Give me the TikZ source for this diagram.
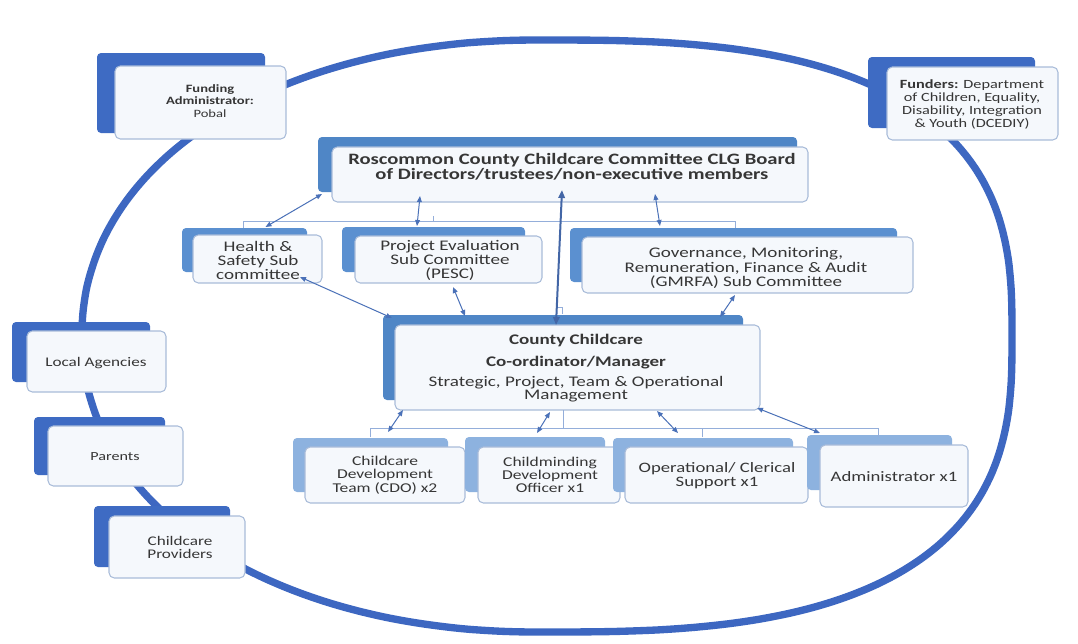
\documentclass[tikz,border=0pt]{standalone}
\usepackage{fontspec}
\setmainfont{Carlito}[FakeStretch=1.3]
\usetikzlibrary{fit,calc,arrows.meta}
\definecolor{ring}{HTML}{3D67C1}
\definecolor{backdark}{HTML}{3E6BC3}
\definecolor{backmid}{HTML}{4F86C6}
\definecolor{backsub}{HTML}{5B90D0}
\definecolor{backlight}{HTML}{8DB2DF}
\definecolor{frontfill}{HTML}{F5F8FC}
\definecolor{frontline}{HTML}{A9BCD9}
\definecolor{arrowc}{HTML}{4A71B8}
\definecolor{bracketc}{HTML}{94AEDA}
\definecolor{txtc}{HTML}{363636}
\begin{document}
\begin{tikzpicture}[x=0.75pt,y=-0.75pt,
  backD/.style={fill=backdark, rounded corners=3pt, inner sep=0pt, outer sep=0pt},
  backM/.style={fill=backmid, rounded corners=3pt, inner sep=0pt, outer sep=0pt},
  backS/.style={fill=backsub, rounded corners=3pt, inner sep=0pt, outer sep=0pt},
  backL/.style={fill=backlight, rounded corners=3pt, inner sep=0pt, outer sep=0pt},
  front/.style={draw=frontline, line width=0.8pt, fill=frontfill, rounded corners=4pt, inner sep=0pt, outer sep=0pt},
  txt/.style={align=center, text=txtc, inner sep=0pt},
  arr/.style={arrows={Triangle[length=4.5pt,width=3.6pt]-Triangle[length=4.5pt,width=3.6pt]}, draw=arrowc, line width=0.75pt},
  bigarr/.style={arrows={Triangle[length=6pt,width=4.8pt]-Triangle[length=6pt,width=4.8pt]}, draw=arrowc!90!black, line width=1.5pt},
  brk/.style={draw=bracketc, line width=0.75pt},
  ringline/.style={draw=ring, line width=5.5pt, line join=round}
]
\useasboundingbox[fill=white] (0,0) rectangle (1078,643);

% outer ring (superellipse, right half flatter than left half)
\draw[ringline]
  plot[domain=-90:90, samples=91, variable=\t, smooth]
    ({540+472*sign(cos(\t))*(abs(cos(\t))+0.000001)^(2/2.8)},
     {336+296*sign(sin(\t))*(abs(sin(\t))+0.000001)^(2/2.8)})
  -- plot[domain=90:270, samples=91, variable=\t, smooth]
    ({540+458*sign(cos(\t))*(abs(cos(\t))+0.000001)^(2/2.1)},
     {336+296*sign(sin(\t))*(abs(sin(\t))+0.000001)^(2/2.1)})
  -- cycle;

% outer boxes
\node[backD, fit={(97,53) (265,133)}] (fundB) {};
\node[front, fit={(115,66) (286,139)}] (fundF) {};
\node[txt, font={\fontsize{8.4}{9.6}\selectfont}] (fundT) at (210,101) {\textbf{Funding}\\\textbf{Administrator:}\\Pobal};

\node[backD, fit={(868,57) (1035,128)}] (fundersB) {};
\node[front, fit={(887,67) (1058,140)}] (fundersF) {};
\node[txt, font={\fontsize{9.4}{9.75}\selectfont}] (fundersT) at (972,104) {\textbf{Funders:} Department\\of Children, Equality,\\Disability, Integration\\\& Youth (DCEDIY)};

\node[backD, fit={(12,322) (150,382)}] (localB) {};
\node[front, fit={(27,331) (166,392)}] (localF) {};
\node[txt, font={\fontsize{9.9}{10}\selectfont}] (localT) at (96,363) {Local Agencies};

\node[backD, fit={(34,417) (165,475)}] (parentsB) {};
\node[front, fit={(48,426) (183,486)}] (parentsF) {};
\node[txt, font={\fontsize{9.3}{10}\selectfont}] (parentsT) at (115,457) {Parents};

\node[backD, fit={(94,506) (230,567)}] (provB) {};
\node[front, fit={(109,516) (245,578)}] (provF) {};
\node[txt, font={\fontsize{9.9}{9.75}\selectfont}] (provT) at (180,547) {Childcare\\Providers};

% board
\node[backM, fit={(318,137) (797,192)}] (boardB) {};
\node[front, fit={(332,147) (808,202)}] (boardF) {};
\node[txt, font={\fontsize{11.9}{11.3}\selectfont\bfseries}] (boardT) at (572,167) {Roscommon County Childcare Committee CLG Board\\of Directors/trustees/non-executive members};

% sub committees
\node[backS, fit={(182,228) (307,272)}] (healthB) {};
\node[front, fit={(193,235) (322,283)}] (healthF) {};
\node[txt, font={\fontsize{11}{10.5}\selectfont}] (healthT) at (258,260) {Health \&\\Safety Sub\\committee};

\node[backS, fit={(342,227) (525,272)}] (pescB) {};
\node[front, fit={(355,236) (542,283)}] (pescF) {};
\node[txt, font={\fontsize{11}{10.5}\selectfont}] (pescT) at (450,260) {Project Evaluation\\Sub Committee\\(PESC)};

\node[backS, fit={(570,228) (897,282)}] (gmrfaB) {};
\node[front, fit={(582,237) (913,293)}] (gmrfaF) {};
\node[txt, font={\fontsize{11}{11.2}\selectfont}] (gmrfaT) at (746,268) {Governance, Monitoring,\\Remuneration, Finance \& Audit\\(GMRFA) Sub Committee};

% manager
\node[backM, fit={(383,315) (743,400)}] (mgrB) {};
\node[front, fit={(395,325) (760,410)}] (mgrF) {};
\node[txt, font={\fontsize{11}{10}\selectfont}] (mgrT) at (576,368) {\textbf{County Childcare}\\[6.5pt]\textbf{Co-ordinator/Manager}\\[5pt]Strategic, Project, Team \& Operational\\Management};

% bottom row
\node[backL, fit={(293,438) (448,492)}] (cdoB) {};
\node[front, fit={(305,447) (465,503)}] (cdoF) {};
\node[txt, font={\fontsize{10.1}{10}\selectfont}] (cdoT) at (385,475) {Childcare\\Development\\Team (CDO) x2};

\node[backL, fit={(465,437) (605,492)}] (cmB) {};
\node[front, fit={(478,447) (620,503)}] (cmF) {};
\node[txt, font={\fontsize{10.1}{10}\selectfont}] (cmT) at (550,475) {Childminding\\Development\\Officer x1};

\node[backL, fit={(613,438) (793,492)}] (opB) {};
\node[front, fit={(625,447) (808,503)}] (opF) {};
\node[txt, font={\fontsize{10.8}{10.5}\selectfont}] (opT) at (717,476) {Operational/ Clerical\\Support x1};

\node[backL, fit={(807,435) (952,490)}] (adminB) {};
\node[front, fit={(820,445) (968,507)}] (adminF) {};
\node[txt, font={\fontsize{10.8}{10.5}\selectfont}] (adminT) at (894,477) {Administrator x1};

% bracket lines
\coordinate (tb1) at (243,228);
\coordinate (tb2) at (735,228);
\draw[brk] (tb1) -- (243,221) -- (735,221) -- (tb2);
\draw[brk] (433,221) -- (433,216);
\coordinate (bb1) at (370,437);
\coordinate (bb2) at (878,437);
\draw[brk] (bb1) -- (370,428) -- (878,428) -- (bb2);
\draw[brk] (702,428) -- (702,437);
\draw[brk] ($(mgrF.south)+(-14.5,0)$) -- (563,428);
\draw[brk] (557,307) -- (562,307) -- (562,314);

% arrows
\draw[arr] ($(boardB.south west)+(4,2)$) -- ($(healthB.north)+(21,-1)$);
\draw[arr] ($(boardF.south west)+(88,-6)$) -- ($(pescB.north west)+(75,-1)$);
\draw[bigarr] ($(boardF.south)+(-8,-12)$) -- ($(mgrF.north)+(-21.5,0)$);
\draw[arr] ($(boardF.south west)+(323,-8)$) -- ($(gmrfaB.north west)+(90,-2)$);
\draw[arr] ($(healthF.south east)+(-22,-6)$) -- ($(mgrB.north west)+(9,3)$);
\draw[arr] ($(pescF.south west)+(98,4)$) -- ($(mgrB.north west)+(82,1)$);
\draw[arr] ($(gmrfaF.south west)+(153,2)$) -- ($(mgrB.north east)+(-23,2)$);
\draw[arr] ($(mgrF.south west)+(8,0)$) -- ($(cdoB.north west)+(95,-6)$);
\draw[arr] ($(mgrF.south west)+(155,2)$) -- ($(cmB.north west)+(72,-4)$);
\draw[arr] ($(mgrF.south west)+(262,1)$) -- ($(opB.north west)+(65,-5)$);
\draw[arr] ($(mgrF.south east)+(-3,-2)$) -- ($(adminF.north west)+(0,-12)$);
\end{tikzpicture}
\end{document}
